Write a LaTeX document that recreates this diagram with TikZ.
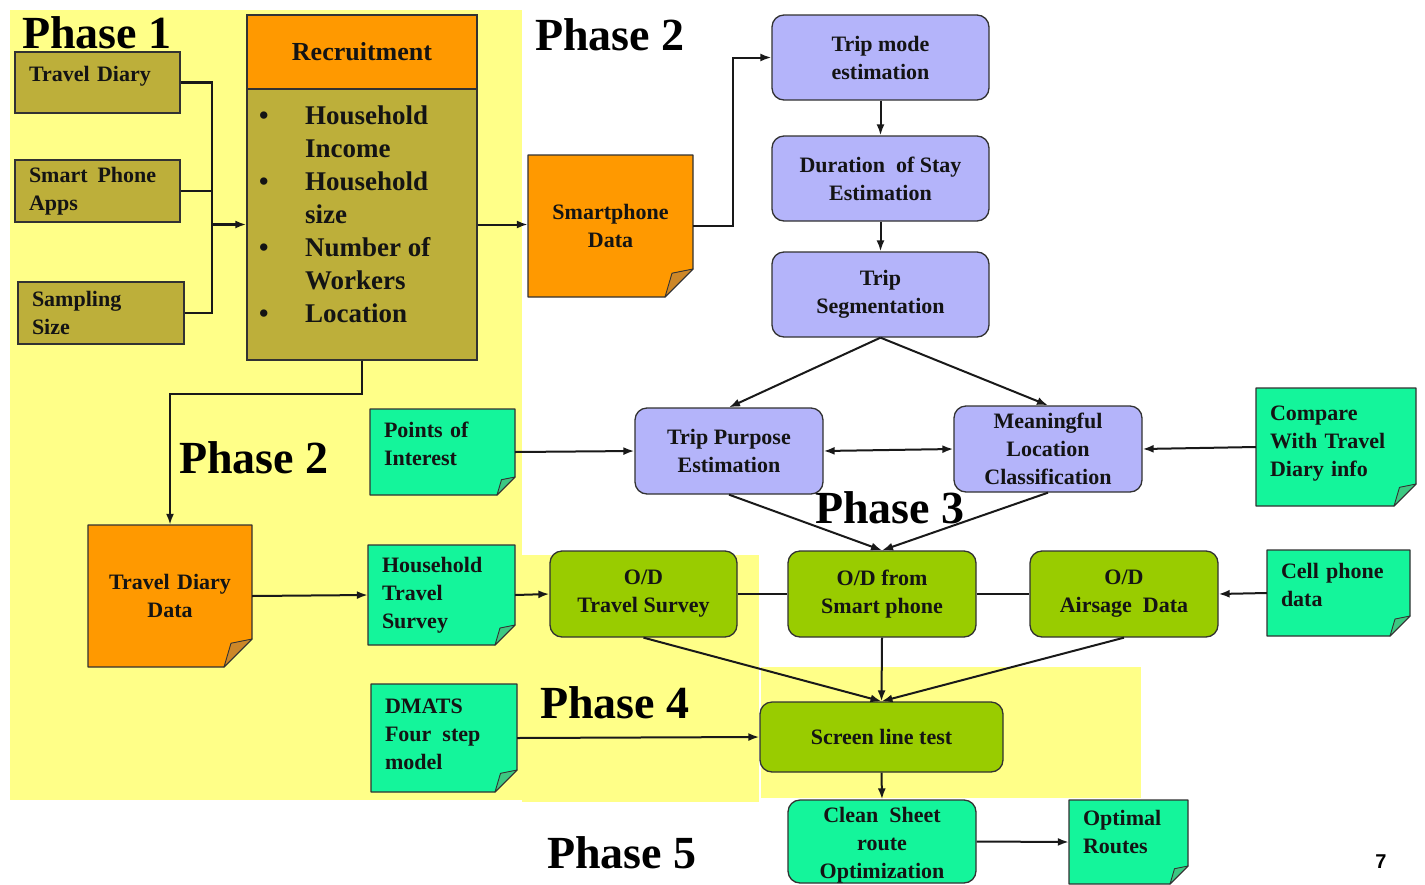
\documentclass[tikz,border=0pt]{standalone}
\usepackage{fontspec}
\setmainfont{Liberation Serif}
\newfontfamily\numfont{Liberation Sans}
\usetikzlibrary{arrows.meta,calc}
\definecolor{ylw}{RGB}{255,255,136}
\definecolor{olivebox}{RGB}{189,175,58}
\definecolor{orng}{RGB}{255,153,0}
\definecolor{orfold}{RGB}{205,135,40}
\definecolor{lav}{RGB}{180,180,250}
\definecolor{ygreen}{RGB}{153,204,0}
\definecolor{mint}{RGB}{20,245,155}
\definecolor{mintfold}{RGB}{60,200,130}
\definecolor{edgec}{RGB}{50,50,50}
\definecolor{txt}{RGB}{20,20,20}
\tikzset{
  box/.style={draw=edgec, line width=1.3pt, inner sep=0pt, text=txt,
    font=\bfseries\fontsize{22}{28}\selectfont},
  olivestyle/.style={box, fill=olivebox, align=left, inner xsep=14pt},
  lavbox/.style={box, fill=lav, rounded corners=12pt, align=center},
  grbox/.style={box, fill=ygreen, rounded corners=12pt, align=center},
  mintbox/.style={box, fill=mint, rounded corners=12pt, align=center},
  notetxt/.style={inner ysep=0pt, inner xsep=14pt, text=txt,
    font=\bfseries\fontsize{22}{28}\selectfont},
  arr/.style={-{Latex[length=11pt,width=8pt]}, line width=2pt, draw=black!90},
  dbl/.style={{Latex[length=11pt,width=8pt]}-{Latex[length=11pt,width=8pt]}, line width=2pt, draw=black!90},
  ln/.style={line width=2pt, draw=black!90},
  feed/.style={line width=2.8pt, draw=black!90},
  phase/.style={inner sep=0pt, font=\bfseries\fontsize{46}{46}\selectfont}
}
\newcommand\fs{28}
% name, x1, y1, x2, y2, style, text
\newcommand\rbox[7]{%
  \node[#6, minimum width={#4-#2}, minimum height={#5-#3}] (#1) at ({(#2+#4)/2},{(#3+#5)/2}) {#7};}
% name, x1, y1, x2, y2, fill, fold, align, text
\newcommand\notebox[9]{%
  \filldraw[fill=#6, draw=edgec, line width=1.3pt, line join=round]
    (#2,#3) -- (#4,#3) -- (#4,#5-\fs) -- (#4-\fs,#5) -- (#2,#5) -- cycle;
  \filldraw[fill=#7, draw=edgec, line width=0.9pt, line join=round]
    (#4,#5-\fs) -- (#4-\fs,#5) -- (#4-0.75*\fs,#5-0.85*\fs) -- cycle;
  \node[notetxt, align=#8, text width={#4-#2-28}, minimum width={#4-#2}, minimum height={#5-#3}]
    (#1) at ({(#2+#4)/2},{(#3+#5)/2}) {#9};}
\begin{document}
\begin{tikzpicture}[x=1pt,y=-1pt]
\useasboundingbox (0,0) rectangle (1425,884);
\fill[white] (0,0) rectangle (1425,884);
% yellow phase areas
\fill[ylw] (10,10) rectangle (522,800);
\fill[ylw] (522,555) rectangle (759,802);
\fill[ylw] (761,667) rectangle (1141,798);

% phase labels
\node[phase] (p1) at (97,33) {Phase 1};
\node[phase] (p2a) at (610,35) {Phase 2};
\node[phase] (p2b) at (254,458) {Phase 2};
\node[phase] (p3) at (890,508) {Phase 3};
\node[phase] (p4) at (615,703) {Phase 4};
\node[phase] (p5) at (622,853) {Phase 5};
\node[inner sep=0pt, font=\numfont\bfseries\fontsize{20}{20}\selectfont] (pg) at (1381,862) {7};

% phase 1
\rbox{td}{15}{52}{180}{113}{olivestyle, text width=137pt}{Travel Diary\\[-10pt]\mbox{}}
\rbox{spa}{15}{160}{180}{222}{olivestyle, text width=137pt}{Smart\hspace{0.45em}Phone\\Apps}
\rbox{ss}{18}{282}{184}{344}{olivestyle, text width=138pt}{Sampling\\Size}
\rbox{rhead}{247}{15}{477}{89}{box, fill=orng, font=\bfseries\fontsize{26}{30}\selectfont}{Recruitment}
\rbox{rlist}{247}{89}{477}{360}{box, fill=olivebox}{}
\node[anchor=west, align=left, inner sep=0pt, text=txt,
  font=\bfseries\fontsize{27}{33}\selectfont] (rtext) at (259,214)
  {\makebox[46pt][l]{\textbullet}Household\\\hspace*{46pt}Income\\
   \makebox[46pt][l]{\textbullet}Household\\\hspace*{46pt}size\\
   \makebox[46pt][l]{\textbullet}Number of\\\hspace*{46pt}Workers\\
   \makebox[46pt][l]{\textbullet}Location};

% phase 2 (smartphone)
\notebox{spd}{528}{155}{693}{297}{orng}{orfold}{center}{Smartphone\\Data}
\rbox{tme}{772}{15}{989}{100}{lavbox}{Trip mode\\estimation}
\rbox{dse}{772}{136}{989}{221}{lavbox}{Duration\hspace{0.5em}of Stay\\Estimation}
\rbox{seg}{772}{252}{989}{337}{lavbox}{Trip\\Segmentation}
\rbox{tpe}{635}{408}{823}{494}{lavbox}{Trip Purpose\\Estimation}
\rbox{mlc}{954}{406}{1142}{492}{lavbox}{Meaningful\\Location\\Classification}
\renewcommand\fs{18}
\notebox{poi}{370}{409}{515}{495}{mint}{mintfold}{left}{Points of\\Interest\\[-12pt]\mbox{}}
\renewcommand\fs{22}
\notebox{cmp}{1256}{388}{1416}{506}{mint}{mintfold}{left}{Compare\\With Travel\\Diary info\\[-16pt]\mbox{}}

% phase 2 (travel diary) and phase 3
\renewcommand\fs{28}
\notebox{tdd}{88}{525}{252}{667}{orng}{orfold}{center}{Travel Diary\\Data}
\renewcommand\fs{20}
\notebox{hts}{368}{545}{515}{645}{mint}{mintfold}{left}{Household\\Travel\\Survey}
\rbox{odts}{550}{551}{737}{637}{grbox}{O/D\\Travel Survey}
\rbox{odsp}{788}{551}{976}{637}{grbox}{O/D from\\Smart phone}
\rbox{odair}{1030}{551}{1218}{637}{grbox}{O/D\\Airsage\hspace{0.5em}Data}
\notebox{cpd}{1267}{550}{1410}{636}{mint}{mintfold}{left}{Cell phone\\data\\[-12pt]\mbox{}}

% phase 4 and 5
\rbox{scr}{760}{702}{1003}{772}{grbox}{Screen line test}
\renewcommand\fs{22}
\notebox{dmats}{371}{684}{517}{792}{mint}{mintfold}{left}{DMATS\\Four\hspace{0.5em}step\\model\\[-20pt]\mbox{}}
\rbox{cln}{788}{800}{976}{883}{mintbox}{}
\node[inner sep=0pt, align=center, text=txt, font=\bfseries\fontsize{22}{28}\selectfont]
  (clntext) at (882,845) {Clean\hspace{0.5em}Sheet\\route\\Optimization};
\renewcommand\fs{18}
\notebox{opt}{1069}{800}{1188}{884}{mint}{mintfold}{left}{Optimal\\Routes\\[-8pt]\mbox{}}

% connectors
\coordinate (j) at (212,224.5);
\draw[feed] (td.east) -| (j);
\draw[feed] (spa.east) -| (j);
\draw[feed] (ss.east) -| (j);
\draw[arr, line width=2.8pt] (j) -- (rlist.west);
\draw[arr] (rlist.east) -- (rlist.east -| spd.west);
\draw[arr] (spd.east) -- ++(40,0) |- (tme.west);
\draw[arr] (tme.south) -- (dse.north);
\draw[arr] (dse.south) -- (seg.north);
\draw[arr] (seg.south) -- (tpe.north);
\draw[arr] (seg.south) -- (mlc.north);
\draw[dbl] (tpe.east) -- (mlc.west);
\draw[arr] (poi.east) -- (tpe.west);
\draw[arr] (cmp.west) -- (mlc.east);
\draw[arr] (tpe.south) -- (odsp.north);
\draw[arr] (mlc.south) -- (odsp.north);
\draw[arr] (rlist.south) -- ++(0,33) -| (tdd.north);
\draw[arr] (tdd.east) -- (hts.west);
\draw[arr] (hts.east) -- (odts.west);
\draw[ln] (odts.east) -- (odsp.west);
\draw[ln] (odsp.east) -- (odair.west);
\draw[arr] (cpd.west) -- (odair.east);
\draw[arr] (odts.south) -- (scr.north);
\draw[arr] (odsp.south) -- (scr.north);
\draw[arr] (odair.south) -- (scr.north);
\draw[arr] (dmats.east) -- (scr.west);
\draw[arr] (scr.south) -- (cln.north);
\draw[arr] (cln.east) -- (opt.west);
\end{tikzpicture}
\end{document}
